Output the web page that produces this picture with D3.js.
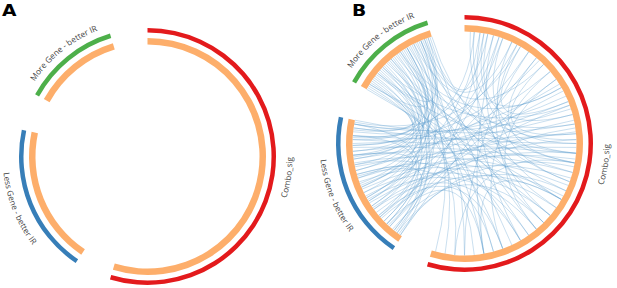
<!DOCTYPE html>
<html><head><meta charset="utf-8">
<script src="https://cdn.jsdelivr.net/npm/d3@7"></script>
<style>body{margin:0;background:#fff}</style>
</head><body><svg id="c" width="617" height="288"></svg>
<script>
// ---- data ----
const groupNames = ["Combo_sig", "Less Gene - better IR", "More Gene - better IR"];
const groupKeys = ["C", "L", "M"];
const groupSizes = [197, 68, 44];
const groupColors = ["#e31a1c", "#377eb8", "#4daf4a"];
const trackColor = "#fdae6b";
const panelLabels = ["A", "B"];
// links: [sourceGroup, sourcePos, targetGroup, targetPos]
const moreLessLinks = [
  ["M",2,"L",60],["M",4,"L",45],["M",6,"L",30],["M",8,"L",12],["M",10,"L",55],["M",12,"L",20],
  ["M",14,"L",5],["M",16,"L",38],["M",18,"L",64],["M",20,"L",25],["M",22,"L",50],["M",24,"L",8],
  ["M",26,"L",33],["M",28,"L",16],["M",30,"L",42],["M",32,"L",58],["M",34,"L",3],["M",36,"L",27],
  ["M",38,"L",48],["M",40,"L",10],["M",42,"L",35],["M",7,"L",66],["M",19,"L",1],["M",29,"L",22],["M",41,"L",52]
];
const moreComboLinks = [
  ["M",1,"C",150],["M",3,"C",120],["M",5,"C",175],["M",9,"C",95],["M",11,"C",160],["M",13,"C",135],
  ["M",15,"C",185],["M",17,"C",105],["M",21,"C",170],["M",23,"C",80],["M",25,"C",145],["M",27,"C",190],
  ["M",31,"C",125],["M",33,"C",165],["M",35,"C",100],["M",37,"C",180],["M",39,"C",140],["M",43,"C",155],
  ["M",44,"C",110],["M",0,"C",130],["M",26,"C",60],["M",34,"C",45],["M",40,"C",88],["M",14,"C",70],
  ["M",38,"C",25],["M",42,"C",15],["M",30,"C",195],["M",20,"C",115]
];
const lessComboLinks = [
  ["L",68,"C",80],["L",66,"C",72],["L",64,"C",90],["L",62,"C",65],["L",60,"C",85],["L",58,"C",95],
  ["L",56,"C",58],["L",54,"C",100],["L",52,"C",75],["L",50,"C",105],["L",48,"C",68],["L",46,"C",112],
  ["L",44,"C",92],["L",42,"C",50],["L",40,"C",118],["L",38,"C",84],["L",36,"C",125],["L",34,"C",62],
  ["L",32,"C",98],["L",30,"C",130],["L",28,"C",78],["L",26,"C",140],["L",24,"C",108],["L",22,"C",35],
  ["L",20,"C",150],["L",18,"C",88],["L",16,"C",160],["L",14,"C",120],["L",12,"C",20],["L",10,"C",170],
  ["L",8,"C",55],["L",6,"C",135],["L",4,"C",10],["L",2,"C",102],["L",1,"C",40],["L",67,"C",30],
  ["L",63,"C",12],["L",59,"C",5],["L",55,"C",42],["L",49,"C",28],["L",45,"C",145],["L",39,"C",165],
  ["L",33,"C",8],["L",27,"C",18],["L",21,"C",95],["L",15,"C",70],["L",9,"C",82],["L",3,"C",115]
];
const comboComboLinks = [
  ["C",5,"C",60],["C",12,"C",75],["C",20,"C",90],["C",25,"C",110],["C",30,"C",68],["C",8,"C",150],
  ["C",40,"C",100],["C",15,"C",130],["C",50,"C",160],["C",35,"C",180],["C",3,"C",120],["C",45,"C",85],
  ["C",120,"C",170],["C",100,"C",185],["C",55,"C",140],["C",18,"C",170],["C",28,"C",135],["C",10,"C",95]
];
const sameSetLinks = [
  ["L",5,"L",40],["L",15,"L",60],["L",25,"L",50],["L",10,"L",66],["M",3,"M",30],["M",10,"M",38]
];

// ---- layout ----
const padDeg = 17;
const deg = Math.PI / 180;
const total = d3.sum(groupSizes);
const unit = (360 - padDeg * groupSizes.length) / total;
let acc = 0;
const groups = groupSizes.map((s, i) => {
  const g = {i, key: groupKeys[i], name: groupNames[i], start: acc * deg, end: (acc + s * unit) * deg};
  acc += s * unit + padDeg;
  return g;
});
const posScale = {};
groups.forEach(g => posScale[g.key] = d3.scaleLinear().domain([0, groupSizes[g.i]]).range([g.start, g.end]));

const outerArc = d3.arc().innerRadius(124).outerRadius(128.5);
const trackArc = d3.arc().innerRadius(112).outerRadius(118.5);
const linkR = 112;

const svg = d3.select("#c");
const allLinks = [].concat(moreLessLinks, moreComboLinks, lessComboLinks, comboComboLinks, sameSetLinks);

function pt(a, r) { return [r * Math.sin(a), -r * Math.cos(a)]; }

function drawPanel(idx, cx, cy, withLinks) {
  const g = svg.append("g").attr("transform", `translate(${cx},${cy})`);
  const defs = g.append("defs");
  if (withLinks) {
    g.append("g").selectAll("path").data(allLinks).join("path")
      .attr("d", d => {
        const a0 = posScale[d[0]](d[1]), a1 = posScale[d[2]](d[3]);
        const p0 = pt(a0, linkR), p1 = pt(a1, linkR);
        const p = d3.path();
        p.moveTo(p0[0], p0[1]);
        p.quadraticCurveTo(0, 0, p1[0], p1[1]);
        return p.toString();
      })
      .attr("fill", "none")
      .attr("stroke", "#5b9dcc")
      .attr("stroke-opacity", 0.38)
      .attr("stroke-width", 0.85);
  }
  g.append("g").selectAll("path").data(groups).join("path")
    .attr("d", d => trackArc({startAngle: d.start, endAngle: d.end}))
    .attr("fill", trackColor);
  g.append("g").selectAll("path").data(groups).join("path")
    .attr("d", d => outerArc({startAngle: d.start, endAngle: d.end}))
    .attr("fill", d => groupColors[d.i]);
  // labels
  groups.forEach(d => {
    const m = (d.start + d.end) / 2;
    const flipped = m > Math.PI / 2 && m < 3 * Math.PI / 2;
    const r = flipped ? 145 : 135.5;
    const span = 45 * deg;
    const a0 = m - span, a1 = m + span;
    const id = `lab${idx}_${d.i}`;
    let dstr;
    if (!flipped) {
      const s = pt(a0, r), e = pt(a1, r);
      dstr = `M${s[0]},${s[1]}A${r},${r} 0 0 1 ${e[0]},${e[1]}`;
    } else {
      const s = pt(a1, r), e = pt(a0, r);
      dstr = `M${s[0]},${s[1]}A${r},${r} 0 0 0 ${e[0]},${e[1]}`;
    }
    defs.append("path").attr("id", id).attr("d", dstr);
    g.append("text")
      .attr("font-family", "'Open Sans', sans-serif")
      .attr("font-size", 8.2)
      .attr("fill", "#444")
      .append("textPath")
      .attr("href", `#${id}`)
      .attr("startOffset", "50%")
      .attr("text-anchor", "middle")
      .text(d.name);
  });
}

drawPanel(0, 147.5, 156.5, false);
drawPanel(1, 464.5, 143.5, true);

const letterX = [2, 352];
panelLabels.forEach((t, i) => {
  svg.append("text")
    .attr("transform", `translate(${letterX[i]},16) scale(1.25,1)`)
    .attr("font-family", "'DejaVu Sans', Arial, sans-serif")
    .attr("font-weight", "bold")
    .attr("font-size", 15)
    .attr("fill", "#000")
    .text(t);
});
</script>
</body></html>
